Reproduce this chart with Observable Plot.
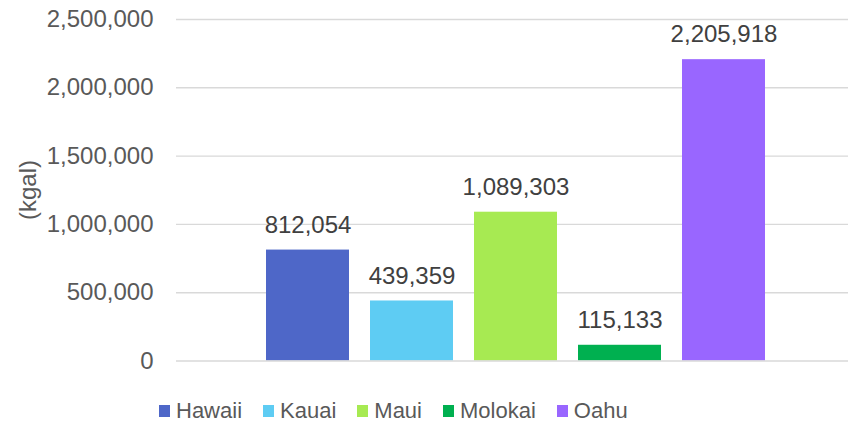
<!DOCTYPE html>
<html>
<head>
<meta charset="utf-8">
<script src="https://cdn.jsdelivr.net/npm/d3@7"></script>
<script src="https://cdn.jsdelivr.net/npm/@observablehq/plot@0.6"></script>
<style>
  html, body { margin: 0; padding: 0; background: #fff; }
  #wrap { position: relative; width: 848px; height: 426px; font-family: "Liberation Sans", Arial, sans-serif; }
  #legend { position: absolute; left: 159px; top: 398px; display: flex; align-items: center; gap: 21px; font-size: 22px; color: #595959; }
  .item { display: flex; align-items: center; }
  .sw { width: 11px; height: 12px; margin-right: 6px; }
</style>
</head>
<body>
<div id="wrap"></div>
<script>
const islands = ["Hawaii", "Kauai", "Maui", "Molokai", "Oahu"];
const values = [812054, 439359, 1089303, 115133, 2205918];
const colors = ["#4E67C8", "#5ECCF3", "#A7EA52", "#00B050", "#9966FF"];
const yTicks = [0, 500000, 1000000, 1500000, 2000000, 2500000];
const yLabel = "(kgal)";

const data = islands.map((d, i) => ({island: d, value: values[i]}));
const fmt = d3.format(",");

const chart = Plot.plot({
  width: 848,
  height: 385,
  marginLeft: 176,
  marginRight: 0,
  marginTop: 19,
  marginBottom: 24.5,
  style: {fontFamily: "'Liberation Sans', Arial, sans-serif", background: "#fff"},
  x: {domain: islands, paddingInner: 0.2, paddingOuter: 0.815, align: 0.522, axis: null},
  y: {domain: [0, 2500000], axis: null},
  color: {domain: islands, range: colors},
  marks: [
    Plot.ruleY(yTicks.filter(d => d > 0), {stroke: "#d9d9d9", strokeWidth: 1.4}),
    Plot.axisY(yTicks, {tickSize: 0, tickPadding: 23, tickFormat: fmt, fontSize: 24, fill: "#595959", label: null}),
    Plot.barY(data, {x: "island", y: "value", fill: "island"}),
    Plot.text(data, {x: "island", y: "value", text: d => fmt(d.value), dy: -25, fontSize: 24, fill: "#404040"}),
    Plot.ruleY([0], {stroke: "#d9d9d9", strokeWidth: 1.4})
  ]
});

d3.select(chart).append("text")
  .attr("transform", "translate(27,190) rotate(-90)")
  .attr("text-anchor", "middle")
  .attr("dominant-baseline", "central")
  .attr("font-size", 24)
  .attr("fill", "#595959")
  .text(yLabel);

const wrap = document.getElementById("wrap");
wrap.appendChild(chart);

const legend = document.createElement("div");
legend.id = "legend";
islands.forEach((name, i) => {
  const it = document.createElement("div");
  it.className = "item";
  const sw = document.createElement("span");
  sw.className = "sw";
  sw.style.background = colors[i];
  const t = document.createElement("span");
  t.textContent = name;
  it.appendChild(sw);
  it.appendChild(t);
  legend.appendChild(it);
});
wrap.appendChild(legend);
</script>
</body>
</html>
